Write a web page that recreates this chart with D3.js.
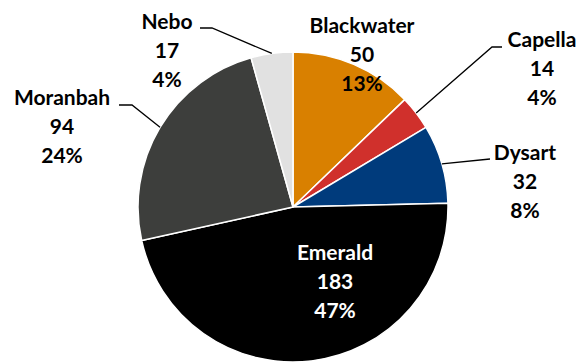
<!DOCTYPE html>
<html lang="en">
<head>
    <meta charset="UTF-8">
    <title>Pie chart</title>
    <script src="https://d3js.org/d3.v7.min.js"></script>
    <style>
        html, body {
            margin: 0;
            background: #fff;
        }
        text {
            font-family: Lato, "Open Sans", sans-serif;
            font-weight: bold;
            font-size: 21px;
        }
    </style>
</head>
<body>
    <div id="vis"></div>
    <script>
        // data
        var sites = ["Blackwater", "Capella", "Dysart", "Emerald", "Moranbah", "Nebo"];
        var counts = [50, 14, 32, 183, 94, 17];
        var colours = ["#d98000", "#d0302c", "#003b7c", "#000000", "#3d3e3c", "#e1e1e1"];

        // label placement: centre of text block, elbow of leader line (null = no leader)
        var labelPos = [
            {x: 362, y: 26, elbow: null},
            {x: 542, y: 40, elbow: [492, 47], end: [502, 47]},
            {x: 525, y: 153, elbow: [490, 159], end: [490, 159]},
            {x: 335, y: 253, elbow: null, fill: "#fff"},
            {x: 62, y: 98, elbow: [132, 105], end: [119, 105]},
            {x: 167, y: 22, elbow: [212, 28], end: [200, 28]}
        ];

        var width = 580, height = 363;
        var cx = 293, cy = 207, radius = 155;
        var lineGap = 29;

        var svg = d3.select("#vis").append("svg")
            .attr("width", width)
            .attr("height", height);

        var total = d3.sum(counts);
        var data = sites.map(function(s, i) {
            return {name: s, value: counts[i], colour: colours[i], pos: labelPos[i]};
        });

        var pie = d3.pie()
            .sort(null)
            .value(function(d) { return d.value; });

        var arc = d3.arc()
            .innerRadius(0)
            .outerRadius(radius);

        var arcs = pie(data);

        var g = svg.append("g")
            .attr("transform", "translate(" + cx + "," + cy + ")");

        g.selectAll("path.slice")
            .data(arcs)
            .enter()
            .append("path")
            .attr("class", "slice")
            .attr("d", arc)
            .attr("fill", function(d) { return d.data.colour; })
            .attr("stroke", "#fff")
            .attr("stroke-width", 1.5)
            .attr("stroke-linejoin", "round");

        // leader lines
        svg.selectAll("polyline.leader")
            .data(arcs.filter(function(d) { return d.data.pos.elbow; }))
            .enter()
            .append("polyline")
            .attr("class", "leader")
            .attr("fill", "none")
            .attr("stroke", "#000")
            .attr("stroke-width", 1.3)
            .attr("points", function(d) {
                var a = (d.startAngle + d.endAngle) / 2;
                var px = cx + radius * Math.sin(a);
                var py = cy - radius * Math.cos(a);
                var p = d.data.pos;
                return [[px, py], p.elbow, p.end].map(function(q) { return q.join(","); }).join(" ");
            });

        // labels
        var labels = svg.selectAll("text.label")
            .data(arcs)
            .enter()
            .append("text")
            .attr("class", "label")
            .attr("text-anchor", "middle")
            .attr("fill", function(d) { return d.data.pos.fill || "#000"; });

        labels.each(function(d) {
            var t = d3.select(this);
            var p = d.data.pos;
            var lines = [d.data.name, d.data.value, Math.round(d.data.value / total * 100) + "%"];
            lines.forEach(function(l, i) {
                t.append("tspan")
                    .attr("x", p.x)
                    .attr("y", p.y + i * lineGap)
                    .attr("dy", "0.35em")
                    .text(l);
            });
        });
    </script>
</body>
</html>
